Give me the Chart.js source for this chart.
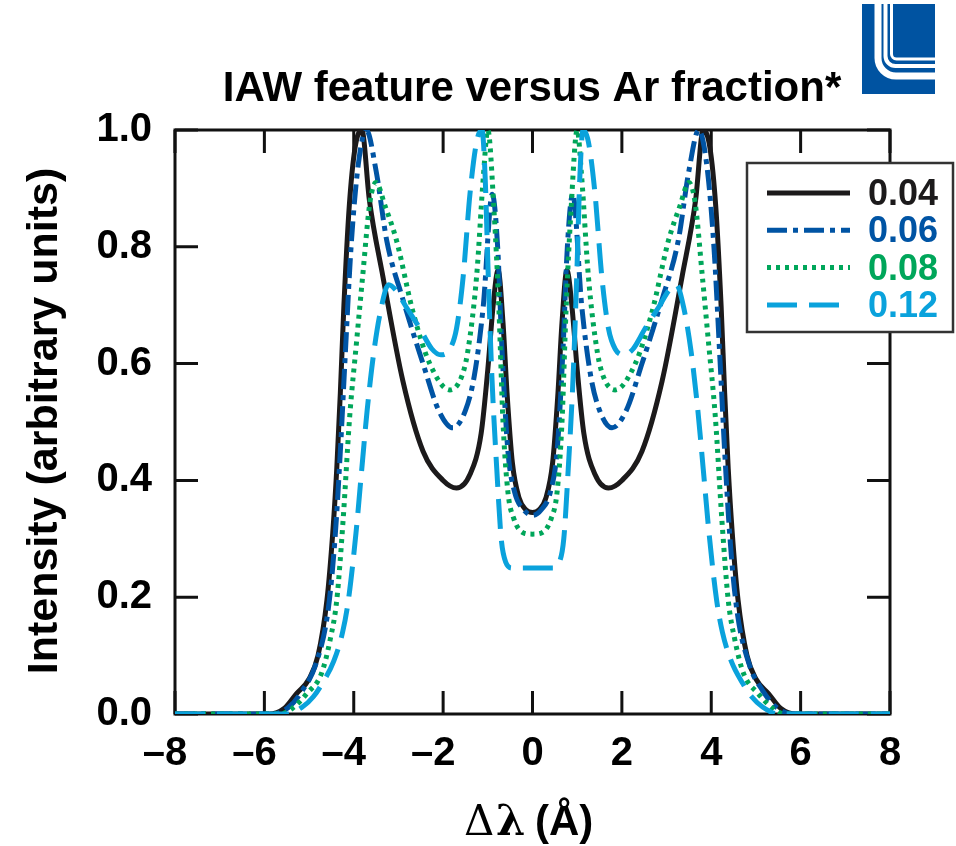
<!DOCTYPE html>
<html>
<head>
<meta charset="utf-8">
<script src="https://cdn.jsdelivr.net/npm/chart.js@4.4.0/dist/chart.umd.min.js"></script>
<style>
  html, body { margin: 0; padding: 0; background: #fff; }
  #wrap { position: relative; width: 956px; height: 846px; }
</style>
</head>
<body>
<div id="wrap"><canvas id="iaw-chart"></canvas></div>
<script>
// Ar fractions (legend labels) and their colours
const fractions = ['0.04', '0.06', '0.08', '0.12'];
const seriesColors = ['#1c1a1b', '#0054a4', '#00a65a', '#0aa2dc'];

const xTicks = [-8, -6, -4, -2, 0, 2, 4, 6, 8];
const yTicks = [0, 0.2, 0.4, 0.6, 0.8, 1.0];

// wavelength shift (A) / intensity
const x004 = [-8, -5.9, -5.55, -5.28, -5.0, -4.8, -4.6, -4.47, -4.38, -4.3, -4.22, -4.1, -3.97, -3.82, -3.65, -3.35, -2.9, -2.45, -2.0, -1.7, -1.4, -1.15, -1.0, -0.88, -0.77, -0.66, -0.57, -0.45, -0.3, -0.15, 0,
              0.15, 0.3, 0.45, 0.57, 0.66, 0.77, 0.88, 1.0, 1.15, 1.4, 1.7, 2.0, 2.45, 2.9, 3.35, 3.65, 3.82, 3.97, 4.1, 4.22, 4.3, 4.38, 4.47, 4.6, 4.8, 5.0, 5.28, 5.55, 5.9, 8];
const y004 = [0, 0, 0.01, 0.035, 0.06, 0.1, 0.195, 0.31, 0.42, 0.55, 0.7, 0.87, 0.97, 1.0, 0.88, 0.75, 0.57, 0.45, 0.4, 0.387, 0.41, 0.48, 0.59, 0.7, 0.76, 0.67, 0.55, 0.43, 0.37, 0.35, 0.345,
              0.35, 0.37, 0.43, 0.55, 0.67, 0.76, 0.7, 0.59, 0.48, 0.41, 0.387, 0.4, 0.45, 0.57, 0.75, 0.88, 1.0, 0.97, 0.87, 0.7, 0.55, 0.42, 0.31, 0.195, 0.1, 0.06, 0.035, 0.01, 0, 0];

const x006 = [-8, -5.8, -5.45, -5.15, -4.85, -4.57, -4.42, -4.3, -4.2, -4.06, -3.9, -3.72, -3.5, -3.26, -2.9, -2.45, -2.1, -1.78, -1.5, -1.3, -1.1, -0.9, -0.78, -0.68, -0.55, -0.4, -0.2, 0,
              0.2, 0.4, 0.55, 0.68, 0.78, 0.9, 1.1, 1.3, 1.5, 1.78, 2.1, 2.45, 2.9, 3.26, 3.5, 3.72, 3.9, 4.06, 4.2, 4.3, 4.42, 4.57, 4.85, 5.15, 5.45, 5.8, 8];
const y006 = [0, 0, 0.012, 0.04, 0.085, 0.18, 0.3, 0.45, 0.6, 0.8, 0.94, 1.0, 0.93, 0.81, 0.71, 0.6, 0.52, 0.49, 0.52, 0.58, 0.7, 0.89, 0.8, 0.62, 0.45, 0.38, 0.35, 0.34,
              0.35, 0.38, 0.45, 0.62, 0.8, 0.89, 0.7, 0.58, 0.52, 0.49, 0.52, 0.6, 0.71, 0.81, 0.93, 1.0, 0.94, 0.8, 0.6, 0.45, 0.3, 0.18, 0.085, 0.04, 0.012, 0, 0];

const x008 = [-8, -5.65, -5.37, -5.05, -4.72, -4.52, -4.38, -4.24, -4.09, -3.94, -3.8, -3.64, -3.5, -3.3, -3.04, -2.68, -2.3, -1.85, -1.6, -1.45, -1.25, -1.1, -1.0, -0.86, -0.75, -0.66, -0.55, -0.42, -0.2, 0,
              0.2, 0.42, 0.55, 0.66, 0.75, 0.86, 1.0, 1.1, 1.25, 1.45, 1.6, 1.85, 2.3, 2.68, 3.04, 3.3, 3.5, 3.64, 3.8, 3.94, 4.09, 4.24, 4.38, 4.52, 4.72, 5.05, 5.37, 5.65, 8];
const y008 = [0, 0, 0.01, 0.035, 0.07, 0.13, 0.195, 0.33, 0.51, 0.635, 0.75, 0.875, 0.91, 0.87, 0.81, 0.69, 0.6, 0.555, 0.575, 0.62, 0.75, 0.92, 1.0, 0.86, 0.69, 0.5, 0.38, 0.335, 0.31, 0.308,
              0.31, 0.335, 0.38, 0.5, 0.69, 0.86, 1.0, 0.92, 0.75, 0.62, 0.575, 0.555, 0.6, 0.69, 0.81, 0.87, 0.91, 0.875, 0.75, 0.635, 0.51, 0.33, 0.195, 0.13, 0.07, 0.035, 0.01, 0, 0];

const x012 = [-8, -5.5, -5.15, -4.9, -4.7, -4.45, -4.25, -4.12, -3.95, -3.82, -3.7, -3.55, -3.4, -3.22, -3.05, -2.85, -2.52, -2.25, -2.05, -1.85, -1.7, -1.55, -1.4, -1.25, -1.13, -1.06, -0.99, -0.91, -0.8, -0.7, -0.6, -0.45, 0,
              0.45, 0.6, 0.7, 0.8, 0.91, 0.99, 1.06, 1.13, 1.25, 1.4, 1.55, 1.7, 1.85, 2.05, 2.25, 2.52, 2.85, 3.05, 3.22, 3.4, 3.55, 3.7, 3.82, 3.95, 4.12, 4.25, 4.45, 4.7, 4.9, 5.15, 5.5, 8];
const y012 = [0, 0, 0.012, 0.03, 0.053, 0.09, 0.14, 0.195, 0.31, 0.42, 0.52, 0.62, 0.69, 0.735, 0.725, 0.7, 0.66, 0.625, 0.615, 0.625, 0.66, 0.75, 0.89, 0.98, 1.0, 0.92, 0.75, 0.58, 0.42, 0.3, 0.26, 0.25, 0.25,
              0.25, 0.26, 0.3, 0.42, 0.58, 0.75, 0.92, 1.0, 0.98, 0.89, 0.75, 0.66, 0.625, 0.615, 0.625, 0.66, 0.7, 0.725, 0.735, 0.69, 0.62, 0.52, 0.42, 0.31, 0.195, 0.14, 0.09, 0.053, 0.03, 0.012, 0, 0];

const xSeries = [x004, x006, x008, x012];
const ySeries = [y004, y006, y008, y012];
const dashes = [[], [20, 6, 5, 6], [4, 5], [30, 12]];

const FONT = '"Liberation Sans", Arial, Helvetica, sans-serif';

function toPoints(xs, ys) {
  return xs.map((x, i) => ({ x: x, y: ys[i] }));
}

const datasets = fractions.map((label, i) => ({
  label: label,
  data: toPoints(xSeries[i], ySeries[i]),
  borderColor: seriesColors[i],
  borderWidth: 5,
  borderDash: dashes[i],
  borderCapStyle: 'butt',
  showLine: true,
  pointRadius: 0,
  cubicInterpolationMode: 'monotone',
  order: fractions.length - i
}));

// frame, inward ticks, legend, titles and logo
const decorations = {
  id: 'decorations',
  beforeDatasetsDraw(chart) {
    const ctx = chart.ctx;
    const a = chart.chartArea;
    const sx = chart.scales.x, sy = chart.scales.y;
    ctx.save();
    ctx.strokeStyle = '#111';
    ctx.lineWidth = 3;
    ctx.strokeRect(a.left, a.top, a.right - a.left, a.bottom - a.top);
    ctx.beginPath();
    xTicks.forEach(v => {
      const px = sx.getPixelForValue(v);
      ctx.moveTo(px, a.bottom); ctx.lineTo(px, a.bottom - 23);
      ctx.moveTo(px, a.top); ctx.lineTo(px, a.top + 23);
    });
    yTicks.forEach(v => {
      const py = sy.getPixelForValue(v);
      ctx.moveTo(a.left, py); ctx.lineTo(a.left + 23, py);
      ctx.moveTo(a.right, py); ctx.lineTo(a.right - 23, py);
    });
    ctx.stroke();
    ctx.restore();
  },
  afterDraw(chart) {
    const ctx = chart.ctx;
    ctx.save();

    // legend box
    const lx = 747, ly = 163, lw = 206, lh = 169;
    ctx.fillStyle = '#fff';
    ctx.fillRect(lx, ly, lw, lh);
    ctx.strokeStyle = '#333';
    ctx.lineWidth = 2.5;
    ctx.strokeRect(lx, ly, lw, lh);
    chart.data.datasets.forEach((ds, i) => {
      const cy = 193 + i * 37.3;
      ctx.beginPath();
      ctx.strokeStyle = ds.borderColor;
      ctx.lineWidth = 5;
      ctx.lineCap = 'butt';
      ctx.setLineDash(ds.borderDash);
      ctx.moveTo(767, cy);
      ctx.lineTo(850, cy);
      ctx.stroke();
      ctx.setLineDash([]);
      ctx.fillStyle = ds.borderColor;
      ctx.font = 'bold 36px ' + FONT;
      ctx.textAlign = 'right';
      ctx.textBaseline = 'alphabetic';
      ctx.fillText(ds.label, 938, cy + 12);
    });

    // chart title
    ctx.fillStyle = '#000';
    ctx.font = 'bold 42px ' + FONT;
    ctx.textAlign = 'center';
    ctx.fillText('IAW feature versus Ar fraction*', 532, 101);

    // y axis title
    ctx.save();
    ctx.translate(57, 421);
    ctx.rotate(-Math.PI / 2);
    ctx.font = 'bold 43px ' + FONT;
    ctx.fillText('Intensity (arbitrary units)', 0, 0);
    ctx.restore();

    // x axis title
    ctx.textAlign = 'left';
    ctx.font = '42px "DejaVu Serif", "Liberation Serif", serif';
    ctx.fillText('\u0394', 464, 835);
    ctx.font = 'bold 42px "DejaVu Serif", "Liberation Serif", serif';
    ctx.fillText('\u03bb', 496, 835);
    ctx.font = 'bold 42px ' + FONT;
    ctx.fillText('(\u00c5)', 535, 835);

    // lab logo
    ctx.fillStyle = '#0053a1';
    ctx.fillRect(862, 4, 73, 90);
    ctx.strokeStyle = '#fff';
    ctx.lineCap = 'butt';
    const stripes = [
      { x: 878, y: 76, r: 18, w: 7 },
      { x: 885.5, y: 66, r: 10, w: 4 },
      { x: 891.5, y: 59, r: 5, w: 3 }
    ];
    stripes.forEach(s => {
      ctx.beginPath();
      ctx.lineWidth = s.w;
      ctx.moveTo(s.x, 4);
      ctx.lineTo(s.x, s.y - s.r);
      ctx.arcTo(s.x, s.y, s.x + s.r, s.y, s.r);
      ctx.lineTo(935, s.y);
      ctx.stroke();
    });
    ctx.restore();
  }
};

new Chart(document.getElementById('iaw-chart'), {
  type: 'scatter',
  data: { datasets: datasets },
  options: {
    responsive: true,
    maintainAspectRatio: false,
    animation: false,
    layout: { padding: { top: 130, right: 66, left: 0, bottom: 0 } },
    plugins: {
      legend: { display: false },
      title: { display: false },
      tooltip: { enabled: false }
    },
    scales: {
      x: {
        type: 'linear',
        min: -8,
        max: 8,
        afterBuildTicks: scale => { scale.ticks = xTicks.map(v => ({ value: v })); },
        afterFit: scale => { scale.height = 132; },
        grid: { display: false, drawTicks: false },
        border: { display: false },
        ticks: {
          padding: 16,
          color: '#000',
          font: { family: FONT, size: 40, weight: 'bold' },
          // keep the digit centred under its tick, sign hanging to the left
          callback: v => v < 0 ? '\u2013' + Math.abs(v) + '\u2002' : String(v)
        }
      },
      y: {
        type: 'linear',
        min: 0,
        max: 1,
        afterBuildTicks: scale => { scale.ticks = yTicks.map(v => ({ value: v })); },
        afterFit: scale => { scale.width = 175; },
        grid: { display: false, drawTicks: false },
        border: { display: false },
        ticks: {
          padding: 23,
          color: '#000',
          font: { family: FONT, size: 40, weight: 'bold' },
          callback: v => v.toFixed(1)
        }
      }
    }
  },
  plugins: [decorations]
});
</script>
</body>
</html>
